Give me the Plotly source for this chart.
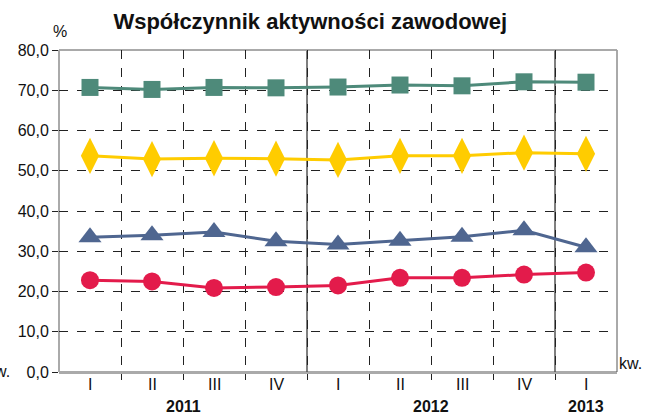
import plotly.graph_objects as go

quarters = ["I", "II", "III", "IV", "I", "II", "III", "IV", "I"]
years = ["2011", "2012", "2013"]
year_first_idx = [0, 4, 8]
year_last_idx = [3, 7, 8]

s_green = [70.7, 70.2, 70.7, 70.6, 70.8, 71.3, 71.1, 72.1, 72.0]
s_yellow = [53.7, 52.9, 53.1, 53.0, 52.7, 53.7, 53.7, 54.5, 54.2]
s_blue = [33.5, 34.0, 34.8, 32.5, 31.7, 32.6, 33.6, 35.2, 31.0]
s_red = [22.8, 22.5, 20.9, 21.1, 21.5, 23.4, 23.4, 24.2, 24.7]

x = list(range(len(quarters)))
FONT = "Liberation Sans, Arial, sans-serif"

fig = go.Figure()
series = [
    (s_green, "#4E8A7A", "square", 17),
    (s_yellow, "#FFCC00", "diamond-tall", 26),
    (s_blue, "#4F6690", "triangle-up", 20),
    (s_red, "#E31B4B", "circle", 18),
]
for vals, col, sym, size in series:
    fig.add_trace(go.Scatter(
        x=x, y=vals, mode="lines+markers",
        line=dict(color=col, width=3),
        marker=dict(symbol=sym, size=size, color=col, line=dict(width=0)),
        showlegend=False, cliponaxis=False, hoverinfo="skip",
    ))

shapes = []
for i in year_first_idx[1:]:
    shapes.append(dict(type="line", xref="x", yref="paper", x0=i - 0.5, x1=i - 0.5,
                       y0=0, y1=1, line=dict(color="#555555", width=1.5), layer="below"))
shapes.append(dict(type="rect", xref="paper", yref="paper", x0=0, x1=1, y0=0, y1=1,
                   line=dict(color="#555555", width=1), layer="below"))
shapes.append(dict(type="line", xref="paper", yref="paper", x0=0, x1=1, y0=1, y1=1,
                   line=dict(color="#AAAAAA", width=1.5), layer="below"))
shapes.append(dict(type="line", xref="paper", yref="paper", x0=0, x1=0, y0=0, y1=1,
                   line=dict(color="#AAAAAA", width=2), layer="below"))

annotations = []
for q, xi in zip(quarters, x):
    annotations.append(dict(x=xi, y=0, xref="x", yref="paper", text=q, showarrow=False,
                            yanchor="top", yshift=-2, font=dict(family=FONT, size=16, color="#111")))
for yr, a, b in zip(years, year_first_idx, year_last_idx):
    annotations.append(dict(x=(a + b) / 2, y=0, xref="x", yref="paper", text="<b>" + yr + "</b>",
                            showarrow=False, yanchor="top", yshift=-24,
                            font=dict(family=FONT, size=16, color="#111")))
annotations.append(dict(x=1, y=0, xref="paper", yref="paper", text="kw.", showarrow=False,
                        xanchor="left", yanchor="bottom", xshift=0, yshift=-2,
                        font=dict(family=FONT, size=16, color="#111")))
annotations.append(dict(x=0, y=0, xref="paper", yref="paper", text="kw.", showarrow=False,
                        xanchor="right", yanchor="bottom", xshift=-47, yshift=-10,
                        font=dict(family=FONT, size=16, color="#111")))
annotations.append(dict(x=0, y=1, xref="paper", yref="paper", text="%", showarrow=False,
                        xanchor="center", yanchor="bottom", xshift=1, yshift=8,
                        font=dict(family=FONT, size=16, color="#111")))

fig.update_layout(
    width=649, height=417,
    margin=dict(l=59, r=32, t=50, b=45, autoexpand=False),
    paper_bgcolor="white", plot_bgcolor="white",
    title=dict(text="<b>Współczynnik aktywności zawodowej</b>", x=0.478, xanchor="center",
               y=0.95, yanchor="middle", font=dict(family=FONT, size=22, color="#111")),
    font=dict(family=FONT, size=16, color="#111"),
    shapes=shapes, annotations=annotations,
    xaxis=dict(range=[-0.5, 8.5], tickvals=x, showticklabels=False, ticks="",
               showgrid=False, zeroline=False, showline=True, linecolor="#AAAAAA", linewidth=2,
               minor=dict(tickvals=[i + 0.5 for i in range(8)], ticks="outside", ticklen=6,
                          tickcolor="#222", showgrid=True, gridcolor="#222", griddash="dash",
                          gridwidth=1)),
    yaxis=dict(range=[0, 80], tickvals=[0, 10, 20, 30, 40, 50, 60, 70, 80],
               ticktext=["0,0", "10,0", "20,0", "30,0", "40,0", "50,0", "60,0", "70,0", "80,0"],
               ticks="outside", ticklen=6, tickcolor="#222", showgrid=True, gridcolor="#222",
               griddash="dash", gridwidth=1, zeroline=False, showline=False,
               tickfont=dict(family=FONT, size=16, color="#111")),
)
fig.write_html("out.html", config={"displayModeBar": False},
               post_script="document.body.style.margin='0';document.body.style.overflow='hidden';")
